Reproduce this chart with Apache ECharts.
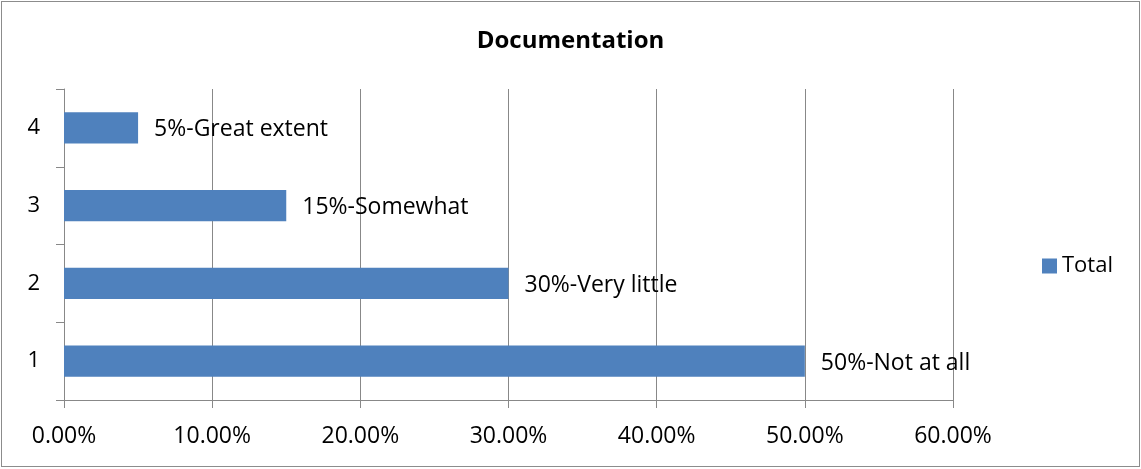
<!DOCTYPE html>
<html><head><meta charset="utf-8">
<script src="https://cdn.jsdelivr.net/npm/echarts@6/dist/echarts.min.js"></script>
<style>
html,body{margin:0;padding:0;background:#fff;}
#frame{position:absolute;left:1px;top:1px;width:1137px;height:464px;border:1px solid #8c8c8c;}
#c{position:absolute;left:0;top:0;width:1141px;height:469px;}
</style></head>
<body>
<div id="frame"></div>
<div id="c"></div>
<script>
const categories = ['1','2','3','4'];
const values = [0.50, 0.30, 0.15, 0.05];
const barLabels = ['50%-Not at all','30%-Very little','15%-Somewhat','5%-Great extent'];
const seriesName = 'Total';
const titleText = 'Documentation';

const font = 'Open Sans';
const chart = echarts.init(document.getElementById('c'), null, {renderer:'canvas'});
chart.setOption({
  animation:false,
  title:{text:titleText,left:'center',top:24,textStyle:{fontFamily:font,fontSize:24,fontWeight:'bold',color:'#000'}},
  legend:{data:[seriesName],orient:'vertical',left:1037,top:250,itemWidth:15,itemHeight:15,itemGap:5,
    textStyle:{fontFamily:font,fontSize:22,color:'#000'},icon:'rect'},
  grid:{left:64,right:188,top:89,bottom:69,containLabel:false},
  xAxis:{type:'value',min:0,max:0.6,interval:0.1,
    axisLine:{show:true,lineStyle:{color:'#888',width:1}},
    axisTick:{show:true,length:8,lineStyle:{color:'#888'}},
    splitLine:{show:true,lineStyle:{color:'#888',width:1}},
    axisLabel:{fontFamily:font,fontSize:23,color:'#000',margin:25,formatter:v=>(v*100).toFixed(2)+'%'}},
  yAxis:{type:'category',data:categories,
    axisLine:{show:true,lineStyle:{color:'#888',width:1}},
    axisTick:{show:true,length:8,alignWithLabel:false,lineStyle:{color:'#888'}},
    splitLine:{show:false},
    axisLabel:{fontFamily:font,fontSize:22,color:'#000',margin:24}},
  series:[{name:seriesName,type:'bar',data:values,barWidth:'40%',itemStyle:{color:'#4F81BD'},
    label:{show:true,position:'right',distance:16,offset:[0,2],fontFamily:font,fontSize:23,color:'#000',
      formatter:p=>barLabels[p.dataIndex]}}]
});
</script>
</body></html>
